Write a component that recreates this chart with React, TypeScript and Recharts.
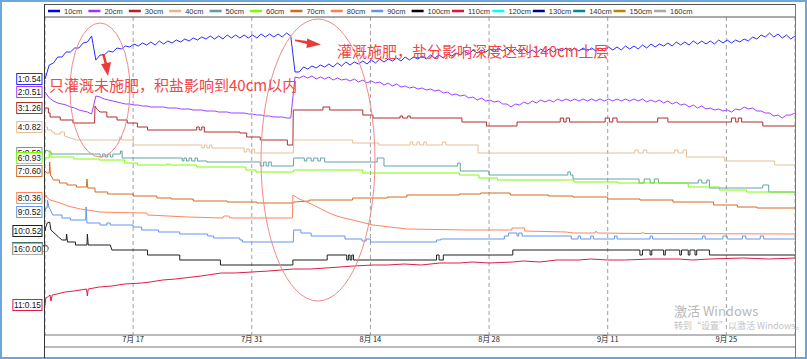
import React from 'react';
import { LineChart, Line, XAxis, YAxis, CartesianGrid } from 'recharts';

const depthLabels = ['10cm','20cm','30cm','40cm','50cm','60cm','70cm','80cm','90cm','100cm','110cm','120cm','130cm','140cm','150cm','160cm'];
const lineColors = ['#2b2bff','#a040ff','#b02e2e','#e3c096','#64a3a5','#7cfc00','#d46a22','#fb8660','#6495ed','#202020','#dc1e46','#00ffff','#00008b','#008b8b','#b8860b','#a9a9a9'];
const legendColors = ['#0000ff','#9b30ff','#b22222','#deb887','#5f9ea0','#7cfc00','#d2691e','#ff7f50','#6495ed','#000000','#dc143c','#00ffff','#00008b','#008b8b','#b8860b','#a9a9a9'];
const startReadings = ['0.54','0.51','1.26','0.82','0.59','0.93','0.60','0.36','0.52','0.52','0.15','0.00','0.00','0.00','0.00','0.00'];

const tickDays = [16, 30, 44, 58, 72, 86];
const tickLabels = ['7月 17', '7月 31', '8月 14', '8月 28', '9月 11', '9月 25'];
const yearTick = [49];
const yearLabel = '2017';
const dayDomain: [number, number] = [5.6, 94.1];

// half-day readings (10cm, 20cm), starting at day 5.6
const sampleStart = 5.6;
const sampleStep = 0.5;
const blue10 = [
  256,270,272,278,278,283,283,287,287,292,293,299,
  275,280,280,284,283,287,286,289,288,291,289,292,290,293,290,294,291,294,292,295,293,296,294,297,295,298,296,299,296,299,296,300,297,300,297,300,297,300,297,301,298,301,298,301,298,302,299,
  263,263,268,266,269,267,270,268,271,268,
  272,269,273,270,273,271,274,271,275,272,
  276,273,276,274,277,274,278,275,278,276,
  279,276,280,277,280,277,281,279,282,280,
  284,281,285,282,285,283,286,283,287,284,
  287,283,286,283,286,282,285,282,286,283,
  286,283,286,284,287,284,287,284,287,284,
  287,284,287,284,288,285,288,285,289,286,
  289,286,290,287,291,288,291,289,292,289,
  293,290,293,290,294,291,294,291,294,291,
  295,292,295,292,295,293,296,294,298,296,
  300,298,302,298,301,297,300,296,299
];
const purple20 = [
  243,237,234,232,231,230,228,227,225,224,223,221,
  239,238,236,235,234,233,232,231,231,230,230,229,229,228,228,228,228,227,227,227,226,226,226,225,225,225,224,224,224,223,223,223,222,222,222,222,221,221,220,220,219,219,218,218,218,217,217,
  258,257,259,257,259,256,258,256,258,255,
  257,255,256,254,256,253,255,252,254,252,
  253,250,252,249,251,248,249,247,248,246,
  247,245,246,244,245,242,243,240,241,239,
  240,237,238,235,237,234,235,233,234,231,
  231,228,231,230,233,231,234,232,235,233,
  235,233,236,234,236,234,236,234,236,234,
  236,234,236,234,236,234,236,234,236,234,
  236,234,236,233,235,233,235,232,234,231,
  233,230,231,228,230,227,229,226,227,225,
  226,224,225,223,226,225,228,226,227,224,
  224,222,222,219,220,217,220,220,222
];

// [day, reading] pairs
const red30 = [[5.6,227],[6.0,227],[6.0,222],[6.2,222],[6.2,218],[7.4,218],[7.4,215],[8.9,215],[8.9,212],[11.45,212],[11.5,229],[11.7,226],[12.1,223],[12.9,223],[12.9,218],[14.1,218],[14.1,215],[15.3,215],[15.3,212],[16.5,212],[16.5,208],[17.7,208],[17.7,205],[23.5,205],[23.5,208],[23.8,208],[23.8,205],[24.1,205],[24.1,208],[24.4,208],[24.4,203],[28.6,203],[28.6,202],[29.4,202],[29.4,198],[31,198],[31,195],[34.2,195],[34.2,190],[34.85,190],[34.9,225],[38.4,225],[38.4,228],[39.2,228],[39.2,225],[43.1,225],[43.1,220],[44.3,220],[44.3,217],[47.5,217],[47.5,219],[47.8,219],[47.8,217],[48.4,217],[48.4,219],[48.7,219],[48.7,217],[54.8,217],[54.8,213],[57.7,213],[57.7,209],[61.3,209],[61.3,213],[66.4,213],[66.4,217],[66.8,217],[66.8,213],[67.1,213],[67.1,217],[67.5,217],[67.5,213],[71.7,213],[71.7,217],[72.2,217],[72.2,213],[72.6,213],[72.6,217],[73.1,217],[73.1,213],[77.9,213],[77.9,217],[79.1,217],[79.1,213],[86.6,213],[86.6,217],[87.1,217],[87.1,213],[87.4,213],[87.4,217],[87.8,217],[87.8,213],[90.3,213],[90.3,209],[94.1,209]];
const tan40 = [[5.6,208],[5.9,208],[5.9,205],[6.4,205],[6.4,203],[6.7,203],[6.7,201],[7.4,201],[7.4,203],[7.9,203],[7.9,199],[8.6,197],[9.3,195],[14.4,195],[14.4,198],[14.6,198],[14.6,195],[16,195],[16,190],[24.1,190],[24.1,187],[24.4,187],[24.4,190],[24.7,190],[24.7,187],[25,187],[25,190],[25.3,190],[25.3,187],[29.1,187],[29.1,183],[29.4,183],[29.4,186],[29.7,186],[29.7,183],[30,183],[30,186],[30.3,186],[30.3,182],[34.9,182],[34.95,195],[41.9,195],[41.9,192],[45,192],[45,190],[48.7,190],[48.7,193],[49,193],[49,190],[49.5,190],[49.5,193],[49.8,193],[49.8,190],[50.3,190],[50.3,193],[50.6,193],[50.6,190],[52.5,190],[52.5,193],[52.9,193],[52.9,190],[56.7,190],[56.7,182],[75.2,182],[75.2,185],[75.6,185],[75.6,182],[76.2,182],[76.2,185],[76.6,185],[76.6,182],[79.9,182],[79.9,185],[80.3,185],[80.3,182],[80.9,182],[80.9,185],[81.3,185],[81.3,178],[85.8,178],[85.8,174],[91.7,174],[91.7,170],[94.1,170]];
const teal50 = [[5.6,182],[5.7,185],[6.3,183],[6.3,181],[12.1,181],[12.1,178],[12.4,178],[12.4,181],[12.7,181],[12.7,178],[13.0,178],[13.0,181],[13.3,181],[13.3,178],[13.6,178],[13.6,181],[14.5,181],[14.5,184],[14.7,184],[14.7,177],[21.8,177],[21.8,174],[22.0,174],[22.0,177],[22.3,177],[22.3,174],[22.6,174],[22.6,177],[22.9,177],[22.9,174],[23.3,174],[23.3,177],[23.6,177],[23.6,174],[24.7,174],[24.7,173],[31,173],[31,169],[31.4,169],[31.4,173],[31.7,173],[31.7,169],[32.0,169],[32.0,173],[32.3,173],[32.3,169],[34.9,169],[34.95,177],[36.2,177],[36.2,174],[36.5,174],[36.5,177],[37.0,177],[37.0,174],[37.3,174],[37.3,177],[37.8,177],[37.8,174],[38.1,174],[38.1,177],[38.6,177],[38.6,173],[44.8,173],[44.8,177],[45.6,177],[45.6,169],[54.3,169],[54.3,172],[54.6,172],[54.6,164],[58,164],[58,160],[67.3,160],[67.3,163],[67.6,163],[67.6,160],[67.9,160],[67.9,156],[75.7,156],[75.7,152],[76.3,152],[76.3,156],[77.0,156],[77.0,152],[77.5,152],[77.5,156],[78.0,156],[78.0,152],[82.7,152],[82.7,155],[83.1,155],[83.1,152],[83.7,152],[83.7,155],[84.0,155],[84.0,147],[90.3,147],[90.3,150],[91.0,150],[91.0,143],[94.1,143]];
const green60 = [[5.6,177],[6.1,177],[6.1,184],[6.3,184],[6.3,178],[9,178],[9,176],[12,176],[12,175],[15,175],[15,172],[16.5,172],[16.5,170],[20,170],[20,171],[20.3,171],[20.3,170],[23.5,170],[23.5,168],[29.3,168],[29.3,165],[30.5,165],[30.5,163],[34.9,163],[34.95,165],[43.1,165],[43.1,162],[54.5,162],[54.5,160],[56.8,160],[56.8,157],[59,157],[59,155],[68,155],[68,153],[73.2,153],[73.2,152],[81.5,152],[81.5,148],[85.2,148],[85.2,145],[88.4,145],[88.4,143],[94.1,143]];
const orange70 = [[5.6,164],[5.86,162],[6.1,162],[6.15,173],[6.25,160],[6.6,155],[7.3,155],[7.3,152],[8.2,152],[8.2,150],[9.3,150],[9.3,148],[10.5,148],[10.55,156],[10.65,147],[11.5,147],[11.5,143],[13,143],[13,141],[16,141],[16,139],[18.8,139],[18.8,137],[20.5,137],[20.5,136],[23.1,136],[23.1,134],[27.1,134],[27.1,133],[30.6,133],[30.6,132],[34.9,132],[35.0,133],[36.8,134],[36.8,135],[41.9,135],[41.9,137],[46,137],[46,138],[48.3,138],[48.3,140],[54.5,140],[54.5,141],[57,141],[57,142],[60.5,142],[60.5,140],[65,140],[65,139],[67.9,139],[67.9,138],[72,138],[72,136],[75.8,136],[75.8,135],[79.7,135],[79.7,133],[84.5,133],[84.5,130],[87.3,130],[87.3,128],[89.6,128],[89.6,127],[94.1,127]];
const coral80 = [[5.6,137],[5.7,140],[5.9,137],[6.2,135],[7.4,132],[8.3,129],[9.8,126],[12.1,123],[14,122.5],[17.6,122],[17.7,120],[22.5,118],[26.6,117],[26.7,119],[27.3,119],[27.4,117],[34.8,117],[34.85,140],[35.6,136],[36.5,133],[37.5,129],[38.4,125],[39.4,121],[40.4,118],[42.4,114],[44.3,110],[46.3,108],[48.3,106],[55.4,105],[60.7,105],[60.7,107],[62.2,107],[62.2,104],[67.1,103],[68,102],[70.5,102],[70.6,104],[70.8,102],[76,101.5],[76.1,103],[76.3,101.5],[94.1,101]];
const cornflower90 = [[5.6,123],[5.7,127],[5.85,127],[5.9,135],[6.05,128],[6.3,124],[6.5,120],[7.6,120],[7.6,117],[8.6,117],[8.6,115],[10.4,115],[10.45,128],[10.55,112],[12.1,112],[12.1,110],[12.9,110],[12.9,112],[13.3,112],[13.3,110],[16,110],[16,108],[17,108],[17,105],[19,105],[19,103],[21.5,103],[21.5,101],[24.8,101],[24.8,99],[25.5,99],[25.5,97],[28.6,97],[28.6,95],[28.9,95],[28.9,93],[34.9,93],[34.95,105],[35.8,105],[35.8,102],[37,102],[37,99],[41,99],[41,96],[43,96],[43,94],[43.5,94],[43.5,96],[44,96],[44,93],[51.8,93],[51.8,95],[52.3,95],[52.3,96],[59.8,96],[59.8,99],[60.3,99],[60.3,102],[61.3,102],[61.3,99],[61.5,99],[61.5,102],[61.9,102],[61.9,99],[67.7,99],[67.7,96],[68.5,96],[68.5,99],[68.8,99],[68.8,96],[70,96],[70,99],[70.3,99],[70.3,96],[72.8,96],[72.8,99],[73.1,99],[73.1,96],[77,96],[77,99],[77.3,99],[77.3,96],[83.2,96],[83.2,99],[83.5,99],[83.5,96],[85.6,96],[85.6,99],[86.1,99],[86.1,96],[87.9,96],[87.9,99],[88.3,99],[88.3,96],[90,96],[90,99],[90.4,99],[90.4,96],[94.1,96]];
const black100 = [[5.6,104],[5.7,108],[5.86,112],[6.15,113],[6.3,105],[7.2,98],[7.6,95],[8.1,95],[8.15,101],[8.25,93],[9.2,93],[9.2,90],[10.55,90],[10.6,101],[10.7,90],[13.3,90],[13.5,85],[17.7,85],[17.7,80],[21.5,80],[21.5,75],[26.3,75],[26.3,70],[34.85,70],[34.85,75],[38.9,75],[38.9,80],[41.2,80],[41.2,75],[41.4,75],[41.4,80],[41.6,80],[41.6,75],[41.8,75],[41.8,80],[42.0,80],[42.0,75],[51.8,75],[51.8,80],[52.1,80],[52.1,75],[52.6,75],[52.6,80],[60.8,80],[60.8,85],[75.8,85],[75.8,80],[76.1,80],[76.1,85],[77.0,85],[77.0,80],[77.2,80],[77.2,85],[78.6,85],[78.6,80],[78.8,80],[78.8,85],[80.5,85],[80.5,80],[80.7,80],[80.7,85],[81.5,85],[81.5,80],[81.7,80],[81.7,85],[82.3,85],[82.3,80],[82.5,80],[82.5,85],[84,85],[84,80],[94.1,80]];
const crimson110 = [[5.6,30],[5.7,37],[5.9,38],[6.2,40],[6.3,34],[6.45,40],[7,41],[8,43],[9,44],[10.5,46],[10.6,39],[10.7,46],[12,48],[13.5,49],[15,51],[17,52],[18,53],[19.5,55],[21,56],[22,57],[24,59],[26.4,62],[28,62],[30,63],[32,64],[34.9,66],[37,66],[40.4,68],[42,69],[44.3,70],[46,70],[48,71],[50,70],[52.2,72],[54.5,72],[56,73],[58,72],[60.8,73],[62,74],[64,73],[66,75],[68.6,75],[70,76],[72,75],[74,75],[77,76],[80.4,76],[82,75],[84,76],[88,77],[91,76],[94.1,77]];
// channels 120–160cm read 0.00; their tags sit stacked at this level
const idleLevels = [87, 86.8, 86.6, 86.3, 86];

const fromSamples = (vals: number[]) => vals.map((v, i) => ({ d: +(sampleStart + i * sampleStep).toFixed(2), v }));
const fromPairs = (p: number[][]) => p.map(([d, v]) => ({ d, v }));

const seriesData = [
  fromSamples(blue10), fromSamples(purple20), fromPairs(red30), fromPairs(tan40), fromPairs(teal50),
  fromPairs(green60), fromPairs(orange70), fromPairs(coral80), fromPairs(cornflower90), fromPairs(black100),
  fromPairs(crimson110),
  ...idleLevels.map((v) => [{ d: sampleStart, v }]),
];

function startTag(i: number) {
  return (props: any) => {
    if (props.index !== 0) return null;
    const x = props.x ?? props.viewBox?.x;
    const y = props.y ?? props.viewBox?.y;
    if (x == null || y == null) return null;
    const text = `${i + 1}:${startReadings[i]}`;
    const w = text.length * 3.8 + 2.5;
    const right = x - 3;
    return (
      <g key={`tag-${i}`}>
        <rect x={right - w} y={y - 5.5} width={w} height={11} fill="#fff" stroke={lineColors[i]} strokeWidth={1} />
        <text x={right - w / 2} y={y + 3} textAnchor="middle" fontSize={8.3} fontFamily="'Liberation Sans', Arial, sans-serif" fill="#111">{text}</text>
      </g>
    );
  };
}

const cjk = "'Noto Sans CJK SC', 'Noto Sans', sans-serif";

export default function App() {
  return (
    <div style={{ position: 'absolute', left: 0, top: 0, width: 807, height: 359, background: '#fff', overflow: 'hidden' }}>
      <LineChart width={807} height={359} margin={{ top: 17, right: 12, bottom: 0, left: 45 }}>
        <CartesianGrid vertical horizontal={false} stroke="#a0a0a0" strokeDasharray="4 3" />
        <XAxis
          dataKey="d" type="number" domain={dayDomain} ticks={tickDays} interval={0}
          tickFormatter={(d: number) => tickLabels[tickDays.indexOf(d)] ?? ''}
          tick={{ fontSize: 7.5, fill: '#222', fontFamily: cjk }}
          tickLine={false} tickSize={0} tickMargin={2} height={12}
          axisLine={{ stroke: '#777' }}
        />
        <XAxis
          xAxisId="yr" dataKey="d" type="number" domain={dayDomain} ticks={yearTick} interval={0}
          tickFormatter={() => yearLabel}
          tick={{ fontSize: 7.5, fill: '#222', fontFamily: cjk }}
          tickLine={false} tickSize={0} tickMargin={2} height={12}
          axisLine={{ stroke: '#777' }}
        />
        <YAxis hide width={0} type="number" domain={[0, 318]} />
        {seriesData.map((data, i) => (
          <Line
            key={depthLabels[i]}
            data={data}
            dataKey="v"
            name={depthLabels[i]}
            type="linear"
            stroke={lineColors[i]}
            strokeWidth={1}
            dot={false}
            activeDot={false}
            isAnimationActive={false}
            label={startTag(i)}
          />
        ))}
      </LineChart>
      <svg width={807} height={359} style={{ position: 'absolute', left: 0, top: 0, pointerEvents: 'none' }}>
        <rect x={1} y={1} width={805} height={357} fill="none" stroke="#6ea6dc" strokeWidth={2} />
        <rect x={44.5} y={4.5} width={751} height={12.5} fill="#fff" stroke="#555" />
        <line x1={44.5} y1={4} x2={44.5} y2={358} stroke="#333" />
        <line x1={795.5} y1={4} x2={795.5} y2={358} stroke="#777" />
        {depthLabels.map((name, i) => {
          const x0 = 48 + i * 40.4;
          return (
            <g key={name}>
              <line x1={x0} y1={11} x2={x0 + 12} y2={11} stroke={legendColors[i]} strokeWidth={2.5} />
              <text x={x0 + 16} y={13.6} fontSize={7.5} fill="#333" fontFamily="'Liberation Sans', Arial, sans-serif">{name}</text>
            </g>
          );
        })}
        <ellipse cx={100} cy={90} rx={30} ry={67} fill="none" stroke="#f28a8a" strokeWidth={1} />
        <ellipse cx={318} cy={160} rx={57} ry={141} fill="none" stroke="#f28a8a" strokeWidth={1} />
        <polygon points="102,54 104.5,54 107,63 111,62 108,76 101,64 104.5,63.5" fill="#ea3a3a" />
        <polygon points="295,39.5 307,41 307,38.5 321,44.5 306.5,48 306.8,44 295,41" fill="#ea3a3a" />
        <text x={49} y={90.5} fontSize={15} fill="#f24646" fontFamily={cjk}>只灌溉未施肥，积盐影响到40cm以内</text>
        <text x={337} y={57} fontSize={15} fill="#f24646" fontFamily={cjk}>灌溉施肥，盐分影响深度达到140cm土层</text>
        <text x={674} y={316} fontSize={13} fill="#b8b8b8" fontFamily={cjk}>激活 Windows</text>
        <text x={674} y={329} fontSize={9} fill="#c4c4c4" fontFamily={cjk}>转到“设置”以激活 Windows。</text>
      </svg>
    </div>
  );
}
